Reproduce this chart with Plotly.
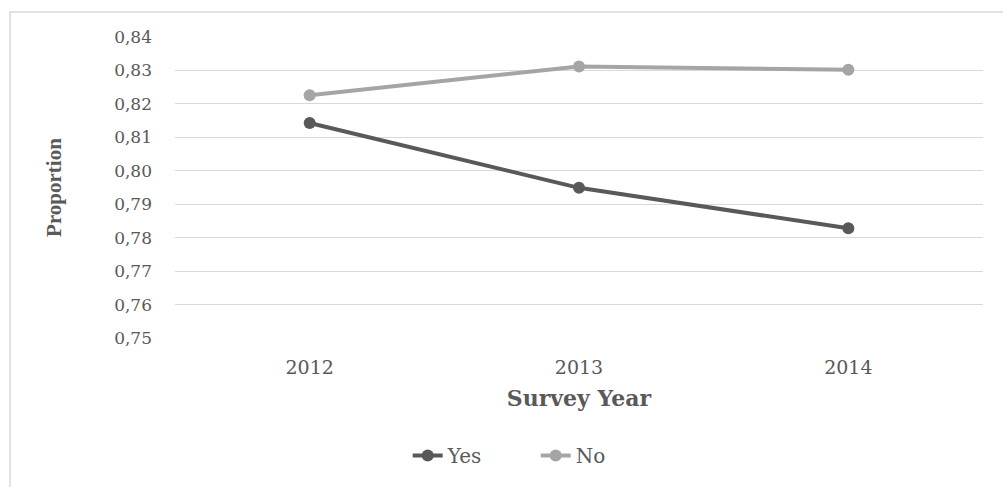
import plotly.graph_objects as go

# Survey data
years = ["2012", "2013", "2014"]
yes_values = [0.8143, 0.7949, 0.7828]
no_values = [0.8226, 0.8312, 0.8302]
y_ticks = [0.75, 0.76, 0.77, 0.78, 0.79, 0.80, 0.81, 0.82, 0.83, 0.84]

serif = '"Liberation Serif", "Times New Roman", serif'
wide_serif = '"DejaVu Serif", serif'
text_grey = "#595959"

fig = go.Figure()
fig.add_trace(go.Scatter(
    x=years, y=yes_values, name="Yes", mode="lines+markers",
    line=dict(color="#595959", width=4),
    marker=dict(color="#595959", size=12),
))
fig.add_trace(go.Scatter(
    x=years, y=no_values, name="No", mode="lines+markers",
    line=dict(color="#A5A5A5", width=4),
    marker=dict(color="#A5A5A5", size=12),
))

fig.update_layout(
    width=1003, height=487,
    margin=dict(l=175, r=20, t=37, b=145),
    paper_bgcolor="white", plot_bgcolor="white",
    separators=",.",
    font=dict(family=wide_serif, color=text_grey, size=17),
    showlegend=True,
    legend=dict(orientation="h", x=0.288, xanchor="left", y=-0.39, yanchor="middle",
                font=dict(family=wide_serif, size=20, color=text_grey),
                entrywidth=83, tracegroupgap=0),
    xaxis=dict(
        type="category", range=[-0.5, 2.5], showgrid=False, showline=False, ticks="",
        tickfont=dict(family=wide_serif, size=19, color=text_grey),
        ticklabelstandoff=16,
        title=dict(text="<b>Survey Year</b>", font=dict(family=wide_serif, size=22, color=text_grey), standoff=13),
    ),
    yaxis=dict(
        range=[0.75, 0.84], tickvals=y_ticks, tickformat=".2f",
        showgrid=True, gridcolor="#D9D9D9", gridwidth=1, zeroline=False,
        showline=False, ticks="",
        tickfont=dict(family=wide_serif, size=17, color=text_grey),
        ticklabelstandoff=22,
        title=dict(text="<b>Proportion</b>", font=dict(family=serif, size=21, color=text_grey), standoff=46),
    ),
    shapes=[dict(
        type="rect", xref="paper", yref="paper",
        x0=(10 - 175) / 808, x1=1.1, y0=-0.6, y1=(342.3 - 12) / 305,
        line=dict(color="#D9D9D9", width=1.5), layer="below",
    )],
)

fig.write_html("out.html")
